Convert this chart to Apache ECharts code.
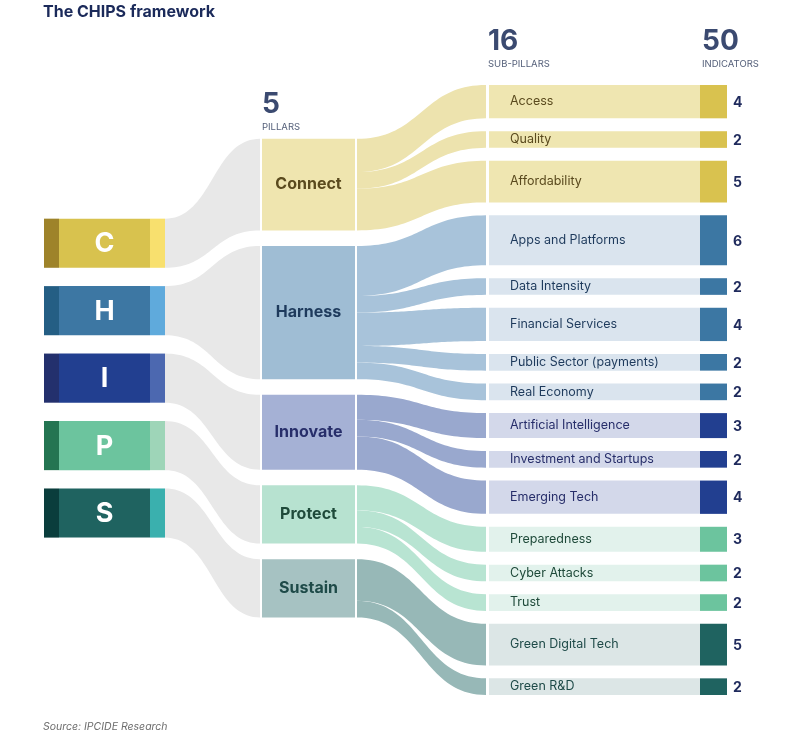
<!DOCTYPE html>
<html><head><meta charset="utf-8">
<script src="https://cdn.jsdelivr.net/npm/echarts@6/dist/echarts.min.js"></script>
<style>html,body{margin:0;padding:0;background:#fff}#chart{width:787px;height:736px}</style>
</head><body><div id="chart"></div>
<script>
// ---------------- data ----------------
const titleText = 'The CHIPS framework';
const sourceText = 'Source: IPCIDE Research';
const letters = ['C', 'H', 'I', 'P', 'S'];
const pillars = ['Connect', 'Harness', 'Innovate', 'Protect', 'Sustain'];
const subPillars = ['Access', 'Quality', 'Affordability', 'Apps and Platforms', 'Data Intensity',
  'Financial Services', 'Public Sector (payments)', 'Real Economy', 'Artificial Intelligence',
  'Investment and Startups', 'Emerging Tech', 'Preparedness', 'Cyber Attacks', 'Trust',
  'Green Digital Tech', 'Green R&D'];
const subParent = [0, 0, 0, 1, 1, 1, 1, 1, 2, 2, 2, 3, 3, 3, 4, 4];
const indicators = [4, 2, 5, 6, 2, 4, 2, 2, 3, 2, 4, 3, 2, 2, 5, 2];
const headerLabels = ['PILLARS', 'SUB-PILLARS', 'INDICATORS'];

// ---------------- styles ----------------
const pal = [
  { dark: '#9E832A', mid: '#D8C24E', light: '#F8E06E', node: '#EFE5AF', link: '#EDE3AE', bar: '#EFE6B1', ind: '#D9C24F', text: '#5A4A1E' },
  { dark: '#245E84', mid: '#3D77A3', light: '#5FAADC', node: '#9FBDD4', link: '#A8C3DA', bar: '#DAE4EE', ind: '#3C77A3', text: '#1E3A5C' },
  { dark: '#23306D', mid: '#223F90', light: '#4C68B0', node: '#A5B1D5', link: '#99A8CE', bar: '#D3D8EA', ind: '#223F90', text: '#272E6A' },
  { dark: '#247552', mid: '#6CC49E', light: '#9ED5B8', node: '#B7E2D0', link: '#B8E4D2', bar: '#E2F2EC', ind: '#6CC49E', text: '#1F4A3A' },
  { dark: '#0A3D3C', mid: '#1F6360', light: '#3AB0AE', node: '#A6C2C2', link: '#97B8B7', bar: '#DCE6E6', ind: '#1F6360', text: '#1E4A48' }
];
const FONT = 'Inter, "Noto Sans", sans-serif';
const X = { letL: 44, letDark: 59, letLight: 150, letR: 165, pilL: 262, pilR: 355,
  linkL: 357, linkR: 486, subL: 489, indL: 700, indR: 727, num: 733, subText: 510 };
const SUB_GAP = 1.55, PIL_GAP = 1.87, LET_H = 5.9, LET_GAP = 2.2, MID = 35.2;

// ---------------- layout (in indicator units) ----------------
const total = indicators.reduce((a, b) => a + b, 0);
const subTop = [];
let acc = 0;
indicators.forEach((v, i) => { subTop.push(acc); acc += v + SUB_GAP; });
const yMax = total + (indicators.length - 1) * SUB_GAP;
const pillarCount = pillars.map((_, p) => indicators.reduce((s, v, i) => s + (subParent[i] === p ? v : 0), 0));
const pillarTop = [];
let pAcc = MID - (total + (pillars.length - 1) * PIL_GAP) / 2;
pillarCount.forEach(c => { pillarTop.push(pAcc); pAcc += c + PIL_GAP; });
const linkOff = [];
const used = pillars.map(() => 0);
indicators.forEach((v, i) => { linkOff.push(used[subParent[i]]); used[subParent[i]] += v; });
const letTop0 = MID - (letters.length * LET_H + (letters.length - 1) * LET_GAP) / 2;
const letterTop = letters.map((_, i) => letTop0 + i * (LET_H + LET_GAP));

function cubic(a, b, c, d, t) {
  const m = 1 - t;
  return m * m * m * a + 3 * m * m * t * b + 3 * m * t * t * c + t * t * t * d;
}
function ribbon(x0, y0t, y0b, x1, y1t, y1b) {
  const xm = (x0 + x1) / 2, pts = [], N = 40;
  for (let k = 0; k <= N; k++) {
    const t = k / N;
    pts.push([cubic(x0, xm, xm, x1, t), cubic(y0t, y0t, y1t, y1t, t)]);
  }
  for (let k = N; k >= 0; k--) {
    const t = k / N;
    pts.push([cubic(x0, xm, xm, x1, t), cubic(y0b, y0b, y1b, y1b, t)]);
  }
  return pts;
}
function rectFrom(api, xa, ya, xb, yb) {
  const a = api.coord([xa, ya]), b = api.coord([xb, yb]);
  return { x: a[0], y: a[1], width: b[0] - a[0], height: b[1] - a[1] };
}

const pillarData = pillars.map((_, i) => [i, 0]);
const subData = subPillars.map((_, i) => [i, 0]);

const series = [
  { // grey links letters -> pillars
    type: 'custom', clip: false, silent: true, data: pillarData,
    renderItem(params, api) {
      const p = api.value(0);
      const a0 = api.coord([X.letR, letterTop[p]]), a1 = api.coord([X.letR, letterTop[p] + LET_H]);
      const b0 = api.coord([X.pilL - 2, pillarTop[p]]), b1 = api.coord([X.pilL - 2, pillarTop[p] + pillarCount[p]]);
      return { type: 'polygon', shape: { points: ribbon(a0[0], a0[1], a1[1], b0[0], b0[1], b1[1]) }, style: { fill: '#E8E8E8' } };
    }
  },
  { // letter boxes
    type: 'custom', clip: false, silent: true, data: pillarData,
    renderItem(params, api) {
      const p = api.value(0), c = pal[p];
      const y0 = letterTop[p], y1 = y0 + LET_H;
      const r1 = rectFrom(api, X.letL, y0, X.letDark, y1);
      const r2 = rectFrom(api, X.letDark, y0, X.letLight, y1);
      const r3 = rectFrom(api, X.letLight, y0, X.letR, y1);
      return { type: 'group', children: [
        { type: 'rect', shape: r1, style: { fill: c.dark } },
        { type: 'rect', shape: r2, style: { fill: c.mid } },
        { type: 'rect', shape: r3, style: { fill: c.light } },
        { type: 'text', style: { text: letters[p], x: r2.x + r2.width / 2, y: r2.y + r2.height / 2 + 1,
          align: 'center', verticalAlign: 'middle', fill: '#FFFFFF', font: 'bold 27px ' + FONT } }
      ] };
    }
  },
  { // links pillars -> sub-pillars
    type: 'custom', clip: false, silent: true, data: subData,
    renderItem(params, api) {
      const i = api.value(0), p = subParent[i];
      const ya = pillarTop[p] + linkOff[i];
      const a0 = api.coord([X.linkL, ya]), a1 = api.coord([X.linkL, ya + indicators[i]]);
      const b0 = api.coord([X.linkR, subTop[i]]), b1 = api.coord([X.linkR, subTop[i] + indicators[i]]);
      return { type: 'polygon', shape: { points: ribbon(a0[0], a0[1], a1[1], b0[0], b0[1], b1[1]) }, style: { fill: pal[p].link } };
    }
  },
  { // pillar nodes
    type: 'custom', clip: false, silent: true, data: pillarData,
    renderItem(params, api) {
      const p = api.value(0);
      const r = rectFrom(api, X.pilL, pillarTop[p], X.pilR, pillarTop[p] + pillarCount[p]);
      return { type: 'group', children: [
        { type: 'rect', shape: r, style: { fill: pal[p].node } },
        { type: 'text', style: { text: pillars[p], x: r.x + r.width / 2, y: r.y + r.height / 2,
          align: 'center', verticalAlign: 'middle', fill: pal[p].text, font: 'bold 16px ' + FONT } }
      ] };
    }
  },
  { // sub-pillar bars
    type: 'custom', clip: false, silent: true, data: subData,
    renderItem(params, api) {
      const i = api.value(0), p = subParent[i];
      const y0 = subTop[i], y1 = y0 + indicators[i];
      const r1 = rectFrom(api, X.subL, y0, X.indL, y1);
      const r2 = rectFrom(api, X.indL, y0, X.indR, y1);
      const tx = api.coord([X.subText, y0])[0];
      const nx = api.coord([X.num, y0])[0];
      const cy = r1.y + r1.height / 2;
      return { type: 'group', children: [
        { type: 'rect', shape: r1, style: { fill: pal[p].bar } },
        { type: 'rect', shape: r2, style: { fill: pal[p].ind } },
        { type: 'text', style: { text: subPillars[i], x: tx, y: cy, align: 'left', verticalAlign: 'middle',
          fill: pal[p].text, font: '12.5px ' + FONT } },
        { type: 'text', style: { text: String(indicators[i]), x: nx, y: cy + 1, align: 'left', verticalAlign: 'middle',
          fill: '#1F2A5C', font: 'bold 14px ' + FONT } }
      ] };
    }
  }
];

const headNum = [pillars.length, subPillars.length, total];
const headX = [X.pilL, X.subL - 1, X.indL + 2];
const graphic = [
  { type: 'text', x: 43, y: 12, style: { text: titleText, font: 'bold 16px ' + FONT, fill: '#1B2A5A', verticalAlign: 'middle' } },
  { type: 'text', x: 43, y: 727, style: { text: sourceText, font: 'italic 10.5px ' + FONT, fill: '#6E6E6E', verticalAlign: 'middle' } }
];
const headY = [105, 42, 42];
headNum.forEach((n, k) => {
  graphic.push({ type: 'text', x: headX[k], y: headY[k], style: { text: String(n), font: 'bold 28px ' + FONT, fill: '#3B4A70', verticalAlign: 'middle' } });
  graphic.push({ type: 'text', x: headX[k], y: headY[k] + 22, style: { text: headerLabels[k], font: '9.5px ' + FONT, fill: '#55607A', verticalAlign: 'middle' } });
});

const chart = echarts.init(document.getElementById('chart'), null, { renderer: 'canvas' });
chart.setOption({
  animation: false,
  backgroundColor: '#FFFFFF',
  grid: { left: 0, right: 0, top: 85, bottom: 41 },
  xAxis: { type: 'value', min: 0, max: 787, show: false },
  yAxis: { type: 'value', min: 0, max: yMax, inverse: true, show: false },
  graphic: graphic,
  series: series
});
</script></body></html>
